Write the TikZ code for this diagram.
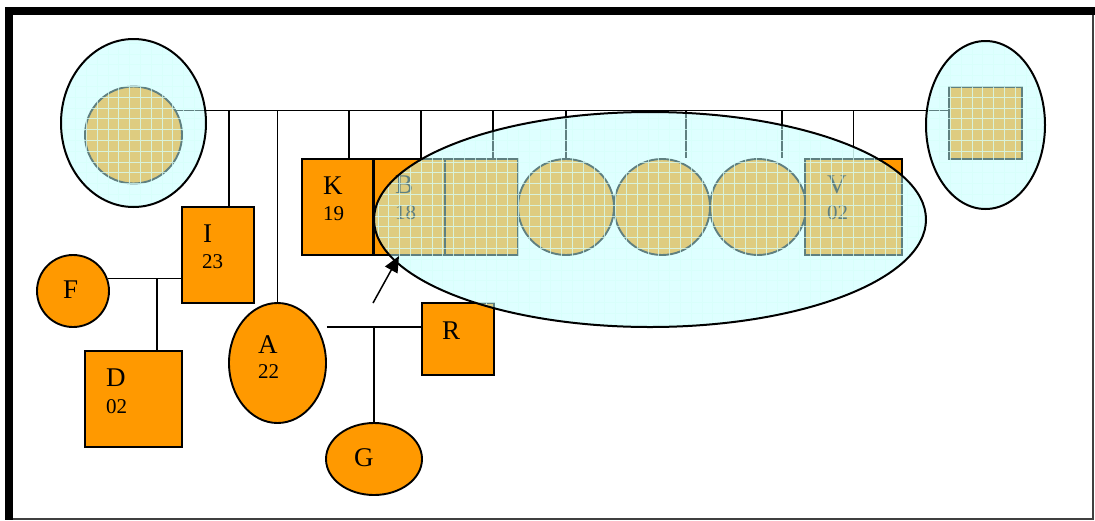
\documentclass[tikz,border=0pt]{standalone}
\usepackage{fontspec}
\setmainfont{Liberation Serif}
\usetikzlibrary{shapes.geometric,arrows.meta}
\definecolor{kin}{RGB}{255,153,0}
\definecolor{veil}{RGB}{191,255,255}
\definecolor{gridc}{RGB}{215,255,250}
\begin{document}
\begin{tikzpicture}[x=1pt,y=-1pt,
  person/.style={draw=black,line width=1.9pt,fill=kin,inner sep=0pt},
  male/.style={person,rectangle},
  female/.style={person,ellipse},
  link/.style={line width=1.5pt},
  big/.style={font=\fontsize{27}{27}\selectfont},
  small/.style={font=\fontsize{21}{21}\selectfont},
  txt/.style={anchor=base west,inner sep=0pt},
  veilnode/.style={ellipse,inner sep=0pt,fill=veil,fill opacity=0.5},
  gridlines/.style={gridc,line width=0.8pt,opacity=0.75},
  rim/.style={line width=2pt},
]
\useasboundingbox (0,0) rectangle (1095,520);
\fill[white] (0,0) rectangle (1095,520);

% ---- persons ----
\node[female,circle,minimum size=97pt] (lc) at (133.5,135) {};
\node[male,minimum width=73pt,minimum height=72pt] (rs) at (985.5,123) {};
\node[male,minimum width=72pt,minimum height=96pt] (I) at (218,255) {};
\node[female,circle,minimum size=72pt] (F) at (73,291) {};
\node[male,minimum width=97pt,minimum height=96pt] (D) at (133.5,399) {};
\node[female,minimum width=97pt,minimum height=120pt] (A) at (277.5,363) {};
\node[male,minimum width=72pt,minimum height=72pt] (R) at (458,339) {};
\node[female,minimum width=96pt,minimum height=72pt] (G) at (374,459) {};
\node[male,minimum width=71pt,minimum height=96pt] (K) at (337.5,207) {};
\node[male,minimum width=71pt,minimum height=96pt] (B) at (409.5,207) {};
\node[male,minimum width=73pt,minimum height=96pt] (S2) at (481.5,207) {};
\node[female,circle,minimum size=96pt] (C1) at (566,207) {};
\node[female,circle,minimum size=96pt] (C2) at (662,207) {};
\node[female,circle,minimum size=96pt] (C3) at (758,207) {};
\node[male,minimum width=97pt,minimum height=96pt] (V) at (853.5,207) {};

% ---- connectors ----
\coordinate (bar) at (lc.30);
\draw[link] (bar) -- (rs.west |- bar);
\draw[link] ([xshift=11pt]I.north) -- ([xshift=11pt]I.north |- bar);
\draw[link] (A.north) -- (A.north |- bar);
\draw[link] ([xshift=11.5pt]K.north) -- ([xshift=11.5pt]K.north |- bar);
\draw[link] ([xshift=11.5pt]B.north) -- ([xshift=11.5pt]B.north |- bar);
\draw[link] ([xshift=11.5pt]S2.north) -- ([xshift=11.5pt]S2.north |- bar);
\draw[link] (C1.north) -- (C1.north |- bar);
\draw[link] ([xshift=24pt]C2.north) -- ([xshift=24pt]C2.north |- bar);
\draw[link] ([xshift=24pt]C3.north) -- ([xshift=24pt]C3.north |- bar);
\draw[link] (V.north) -- (V.north |- bar);

\coordinate (fi) at (F.20);
\draw[link] (fi) -- (fi -| I.west);
\draw[link] ([xshift=23.5pt]D.north) -- ([xshift=23.5pt]D.north |- fi);

\coordinate (ar) at ([yshift=12pt]R.west);
\draw[link] (A.east |- ar) -- (ar);
\draw[link] (G.north) -- (G.north |- ar);

% ---- labels ----
\node[txt,big] (tK) at (323,194) {K};
\node[txt,small] (nK) at (323,220) {19};
\node[txt,big] (tB) at (395,193) {B};
\node[txt,small] (nB) at (395,219) {18};
\node[txt,big] (tV) at (827,193) {V};
\node[txt,small] (nV) at (827,219) {02};
\node[txt,big] (tI) at (203,242) {I};
\node[txt,small] (nI) at (202,268) {23};
\node[txt,big] (tF) at (63,298) {F};
\node[txt,big] (tD) at (106,386) {D};
\node[txt,small] (nD) at (106,413) {02};
\node[txt,big] (tA) at (258,353) {A};
\node[txt,small] (nA) at (258,378) {22};
\node[txt,big] (tR) at (442,339) {R};
\node[txt,big] (tG) at (354,466) {G};

% ---- veils ----
\node[veilnode,minimum width=145pt,minimum height=168pt] (le) at (133.5,123) {};
\begin{scope}
  \clip (le.center) ellipse [x radius=72.5pt,y radius=84pt];
  \draw[gridlines] (55,35) grid[step=10.8pt] (215,215);
\end{scope}
\draw[rim] (le.center) ellipse [x radius=72.5pt,y radius=84pt];

\node[veilnode,minimum width=119pt,minimum height=168pt] (re) at (985.5,125) {};
\begin{scope}
  \clip (re.center) ellipse [x radius=59.5pt,y radius=84pt];
  \draw[gridlines] (920,35) grid[step=10.8pt] (1050,215);
\end{scope}
\draw[rim] (re.center) ellipse [x radius=59.5pt,y radius=84pt];

\node[veilnode,minimum width=552pt,minimum height=215pt] (grp) at (650,219.5) {};
\begin{scope}
  \clip (grp.center) ellipse [x radius=276pt,y radius=107.5pt];
  \draw[gridlines] (370,105) grid[step=10.8pt] (930,335);
\end{scope}
\draw[rim] (grp.center) ellipse [x radius=276pt,y radius=107.5pt];

% ---- arrow ----
\coordinate (arrT) at (373,303);
\coordinate (arrH) at (399,256);
\draw[link,-{Triangle[length=16pt,width=14pt]}] (arrT) -- (arrH);

% ---- frame ----
\draw[line width=8pt] (5,11) -- (1095,11);
\draw[line width=8pt] (9,7) -- (9,520);
\draw[line width=1.5pt,black!75] (1093,15) -- (1093,519) -- (13,519);
\end{tikzpicture}
\end{document}
